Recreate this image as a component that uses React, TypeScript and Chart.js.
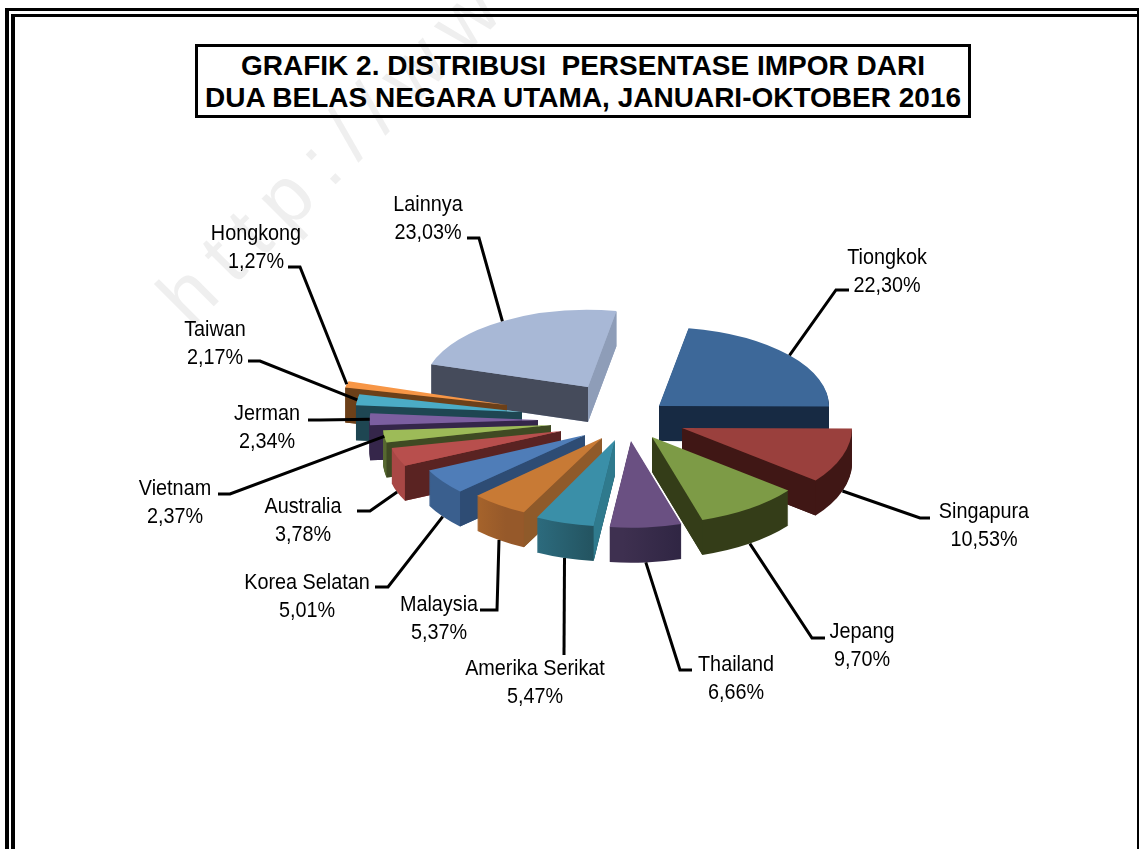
import React, { useEffect, useRef } from "react";
import { Chart, registerables } from "chart.js";

Chart.register(...registerables);

const W = 1139;
const H = 849;

const titleLines = ["GRAFIK 2. DISTRIBUSI  PERSENTASE IMPOR DARI", "DUA BELAS NEGARA UTAMA, JANUARI-OKTOBER 2016"];
const countries = ["Tiongkok", "Singapura", "Jepang", "Thailand", "Amerika Serikat", "Malaysia", "Korea Selatan", "Australia", "Vietnam", "Jerman", "Taiwan", "Hongkong", "Lainnya"];
const shares = [22.3, 10.53, 9.7, 6.66, 5.47, 5.37, 5.01, 3.78, 2.37, 2.34, 2.17, 1.27, 23.03];
const shareLabels = ["22,30%", "10,53%", "9,70%", "6,66%", "5,47%", "5,37%", "5,01%", "3,78%", "2,37%", "2,34%", "2,17%", "1,27%", "23,03%"];

const topColors = ["#3D6899", "#9A403D", "#7D9B46", "#6A5082", "#3A8FA8", "#C87A35", "#4F7DB8", "#B84F4D", "#9DBB58", "#7C5FA0", "#4BACC6", "#F79646", "#A8B8D6"];
const rimLeft = ["#172A43", "#401715", "#343D18", "#3E3050", "#2D6D80", "#B06A2C", "#4A7AB0", "#B84F4D", "#566830", "#35264A", "#1E4652", "#7A4A1E", "#A0AEC8"];
const rimRight = ["#172A43", "#401715", "#343D18", "#2C2340", "#245562", "#96592A", "#3A5F8E", "#A84745", "#566830", "#35264A", "#1E4652", "#7A4A1E", "#A0AEC8"];
const startWall = ["#172A43", "#401715", "#343D18", "#2C2340", "#2F7A8D", "#8F5A2A", "#2E4C74", "#5A2322", "#3F4A23", "#35264A", "#1E4652", "#6C4019", "#454B5B"];
const endWall = ["#172A43", "#401715", "#343D18", "#2C2340", "#2F7A8D", "#8F5A2A", "#2E4C74", "#5A2322", "#3F4A23", "#35264A", "#1E4652", "#6C4019", "#8E9DB8"];

// Layout of the 3D effect and of the labels
const DEPTH = 35;
const SQUASH = [0.465, 0.5, 0.5, 0.5, 0.5, 0.48, 0.47, 0.46, 0.49, 0.49, 0.49, 0.49, 0.47];
const PERSPECTIVE = [1, 1, 1.02, 1.02, 1.02, 1.02, 1.02, 1.02, 0.99, 0.99, 0.98, 0.975, 0.965];
const EXPLODE_X = [41, 64, 34, 13, -3, -16, -33, -57, -67, -80, -96, -111, -30];
const EXPLODE_Y = [-16, 6, 15, 19, 18, 16, 13, 9, 3, -2, -10, -17, -35];
// label centre x, first-line baseline y, elbow x, elbow y, line start x
const labelLayout = [
  [887, 264, 836, 290, 849],
  [984, 518, 920, 518, 930],
  [862, 638, 812, 638, 825],
  [736, 671, 680, 670, 692],
  [535, 675, 564, 655, 564],
  [439, 611, 497, 610, 480],
  [307, 589, 388, 587, 375],
  [303, 513, 370, 511, 357],
  [175, 495, 230, 494, 218],
  [267, 420, 320, 420, 308],
  [215, 336, 260, 361, 248],
  [256, 240, 300, 267, 288],
  [428, 211, 479, 238, 467],
];

function geometry(arc: any, i: number) {
  const mid = (arc.startAngle + arc.endAngle) / 2;
  const k = SQUASH[i];
  const s = PERSPECTIVE[i];
  const dx = EXPLODE_X[i];
  const dy = EXPLODE_Y[i];
  const ax = arc.x + dx;
  const ay = arc.y + dy;
  const rim = (a: number) => [ax + Math.cos(a) * arc.outerRadius * s, ay + Math.sin(a) * arc.outerRadius * s * k];
  return { mid, k, s, ax, ay, rim, dx, dy };
}

function paintArc(ctx: any, arc: any, fill: any, g: any, lift: number) {
  ctx.save();
  ctx.translate(g.dx + arc.x, g.dy + lift + arc.y);
  ctx.scale(g.s, g.k * g.s);
  ctx.translate(-arc.x, -arc.y);
  const saved = arc.options;
  arc.options = { ...saved, backgroundColor: fill, borderWidth: 0 };
  arc.draw(ctx);
  arc.options = saved;
  ctx.restore();
}

function radialWall(ctx: any, g: any, angle: number, color: string) {
  const [rx, ry] = g.rim(angle);
  ctx.fillStyle = color;
  ctx.beginPath();
  ctx.moveTo(g.ax, g.ay);
  ctx.lineTo(rx, ry);
  ctx.lineTo(rx, ry + DEPTH);
  ctx.lineTo(g.ax, g.ay + DEPTH);
  ctx.closePath();
  ctx.fill();
}

const pie3d = {
  id: "pie3d",
  beforeDatasetDraw(chart: any) {
    const ctx = chart.ctx;
    const arcs = chart.getDatasetMeta(0).data;
    const order = arcs.map((arc: any, i: number) => {
      const g = geometry(arc, i);
      return { arc, i, g, key: g.ay + Math.sin(g.mid) * 85 * g.k };
    });
    order.sort((p: any, q: any) => p.key - q.key);
    for (const { arc, i, g } of order) {
      const [sx] = g.rim(arc.startAngle);
      const [ex] = g.rim(arc.endAngle);
      const grad = ctx.createLinearGradient(Math.min(sx, ex), 0, Math.max(sx, ex) + 0.01, 0);
      grad.addColorStop(0, rimLeft[i]);
      grad.addColorStop(1, rimRight[i]);
      for (let d = DEPTH; d > 0; d -= 1) paintArc(ctx, arc, grad, g, d);
      if (Math.cos(arc.startAngle) < 0) radialWall(ctx, g, arc.startAngle, startWall[i]);
      if (Math.cos(arc.endAngle) > 0) radialWall(ctx, g, arc.endAngle, endWall[i]);
      paintArc(ctx, arc, topColors[i], g, 0);
    }
    return false;
  },
  afterDraw(chart: any) {
    const ctx = chart.ctx;
    const arcs = chart.getDatasetMeta(0).data;
    arcs.forEach((arc: any, i: number) => {
      const g = geometry(arc, i);
      const [rx, ry] = g.rim(g.mid);
      const endY = Math.sin(g.mid) > 0.2 ? ry + DEPTH : ry;
      const [cx, by, ex, ey, lx] = labelLayout[i];
      ctx.save();
      ctx.strokeStyle = "#000";
      ctx.lineWidth = 3;
      ctx.lineJoin = "miter";
      ctx.beginPath();
      ctx.moveTo(lx, ey);
      ctx.lineTo(ex, ey);
      ctx.lineTo(rx, endY);
      ctx.stroke();
      ctx.fillStyle = "#000";
      ctx.font = "22px 'Liberation Sans'";
      ctx.textAlign = "center";
      ctx.textBaseline = "alphabetic";
      [countries[i], shareLabels[i]].forEach((t, n) => {
        ctx.save();
        ctx.translate(cx, by + n * 27.5);
        ctx.scale(0.9, 1);
        ctx.fillText(t, 0, 0);
        ctx.restore();
      });
      ctx.restore();
    });
  },
};

const bar = (left: number, top: number, width: number, height: number): React.CSSProperties => ({
  position: "absolute", left, top, width, height, background: "#000",
});

export default function App() {
  const ref = useRef<HTMLCanvasElement>(null);
  useEffect(() => {
    const chart = new Chart(ref.current as HTMLCanvasElement, {
      type: "pie",
      data: {
        labels: countries,
        datasets: [{ data: shares, backgroundColor: topColors, borderWidth: 0, radius: 170 } as any],
      },
      options: {
        responsive: false,
        animation: false,
        rotation: 10,
        radius: 170,
        layout: { padding: { left: 97, bottom: 5 } },
        plugins: { legend: { display: false }, tooltip: { enabled: false }, title: { display: false } },
      } as any,
      plugins: [pie3d as any],
    });
    return () => chart.destroy();
  }, []);
  return (
    <div style={{ position: "fixed", left: 0, top: 0, width: W, height: H, overflow: "hidden", background: "#fff" }}>
      <svg width={W} height={H} style={{ position: "absolute", left: 0, top: 0 }}>
        <text x={0} y={0} transform="translate(191 329) rotate(-45)" fontFamily="'Liberation Sans'" fontSize={80} letterSpacing={16} fill="#efefef">http://www</text>
      </svg>
      <div style={bar(5, 8, 1134, 3)} />
      <div style={bar(11, 14, 1128, 3)} />
      <div style={bar(5, 8, 4, 841)} />
      <div style={bar(11, 14, 4, 835)} />
      <div style={bar(1137, 8, 2, 841)} />
      <div style={{
        position: "absolute", left: 195, top: 44, width: 776, height: 74, boxSizing: "border-box", border: "3px solid #000",
        fontFamily: "'Liberation Sans'", fontWeight: 700, fontSize: 28, lineHeight: "32px", textAlign: "center", whiteSpace: "pre",
        color: "#000", paddingTop: 3,
      }}>
        {titleLines.map((t) => <div key={t}>{t}</div>)}
      </div>
      <canvas ref={ref} width={W} height={H} style={{ position: "absolute", left: 0, top: 0, width: W, height: H, display: "block" }} />
    </div>
  );
}
